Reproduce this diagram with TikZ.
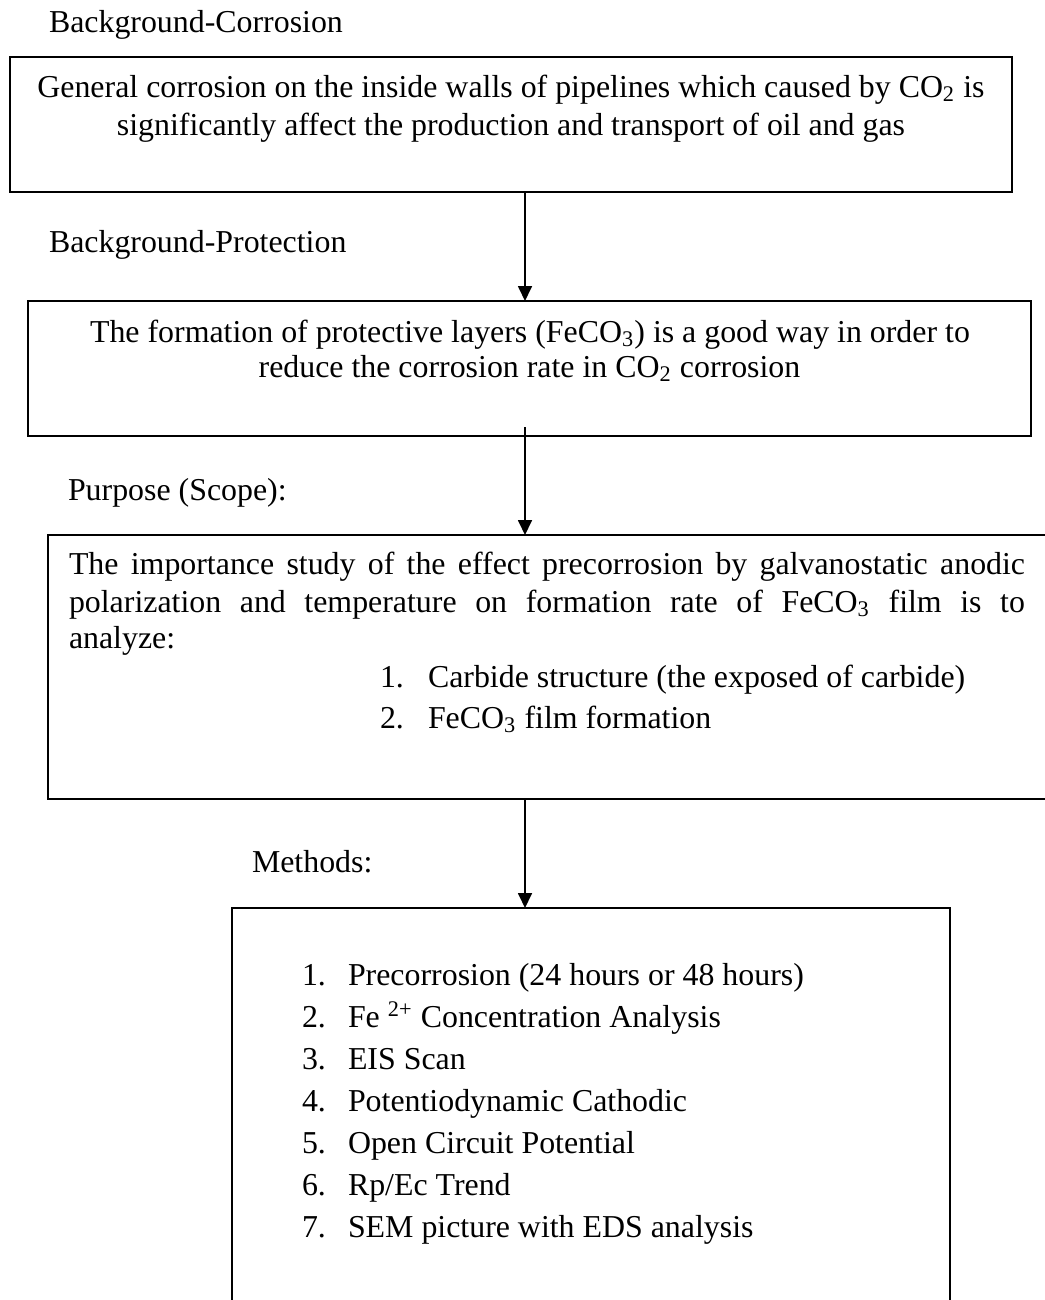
\documentclass[tikz,border=0pt]{standalone}
\usepackage{fontspec}
\setmainfont{Liberation Serif}
\usetikzlibrary{arrows.meta}
\begin{document}
\begin{tikzpicture}[x=0.4pt,y=-0.4pt,
  box/.style={draw, line width=0.8pt, anchor=north west, inner sep=0pt, outer sep=0pt},
  txt/.style={inner sep=0pt, outer sep=0pt, font=\fontsize{12.75}{15}\selectfont},
  lbl/.style={txt, anchor=base west},
  ctr/.style={txt, anchor=base},
  arr/.style={line width=0.7pt, -{Triangle[width=5.6pt,length=6pt]}},
]
\useasboundingbox (0,0) rectangle (1045,1300);
% boxes
\node[box, minimum width=1002*0.4pt, minimum height=135*0.4pt] (b1) at (10,57) {};
\node[box, minimum width=1003*0.4pt, minimum height=135*0.4pt] (b2) at (28,301) {};
\node[box, minimum width=1012*0.4pt, minimum height=264*0.4pt] (b3) at (48,535) {};
\node[box, minimum width=718*0.4pt, minimum height=420*0.4pt] (b4) at (232,908) {};
% connectors
\coordinate (ax) at (525,0);
\coordinate (s2) at ([yshift=3.6pt]b2.south);
\draw[arr] (b1.south -| ax) -- (b2.north -| ax);
\draw[arr] (s2 -| ax) -- (b3.north -| ax);
\draw[arr] (b3.south -| ax) -- (b4.north -| ax);
% texts
\node[lbl] (l1) at (49,32) {Background-Corrosion};
\node[ctr] (t1a) at (511,97) {General corrosion on the inside walls of pipelines which caused by CO\textsubscript{2} is};
\node[ctr] (t1b) at (511,135) {significantly affect the production and transport of oil and gas};
\node[lbl] (l2) at (49,252) {Background-Protection};
\node[ctr] (t2a) at (530,342) {The formation of protective layers (FeCO\textsubscript{3}) is a good way in order to};
\node[ctr] (t2b) at (529.5,377) {reduce the corrosion rate in CO\textsubscript{2} corrosion};
\node[lbl] (l3) at (68,500) {Purpose (Scope):};
\node[lbl] (t3a) at (69,574) {\makebox[382.4pt][s]{The importance study of the effect precorrosion by galvanostatic anodic}};
\node[lbl] (t3b) at (69,612) {\makebox[382.4pt][s]{polarization and temperature on formation rate of FeCO\textsubscript{3} film is to}};
\node[lbl] (t3c) at (69,648) {analyze:};
\node[lbl] (n3a) at (380,687) {1.};
\node[lbl] (i3a) at (428,687) {Carbide structure (the exposed of carbide)};
\node[lbl] (n3b) at (380,728) {2.};
\node[lbl] (i3b) at (428,728) {FeCO\textsubscript{3} film formation};
\node[lbl] (l4) at (252,872) {Methods:};
\node[lbl] (n4a) at (302,985) {1.};
\node[lbl] (i4a) at (348,985) {Precorrosion (24 hours or 48 hours)};
\node[lbl] (n4b) at (302,1027) {2.};
\node[lbl] (i4b) at (348,1027) {Fe \textsuperscript{2+} Concentration Analysis};
\node[lbl] (n4c) at (302,1069) {3.};
\node[lbl] (i4c) at (348,1069) {EIS Scan};
\node[lbl] (n4d) at (302,1111) {4.};
\node[lbl] (i4d) at (348,1111) {Potentiodynamic Cathodic};
\node[lbl] (n4e) at (302,1153) {5.};
\node[lbl] (i4e) at (348,1153) {Open Circuit Potential};
\node[lbl] (n4f) at (302,1195) {6.};
\node[lbl] (i4f) at (348,1195) {Rp/Ec Trend};
\node[lbl] (n4g) at (302,1237) {7.};
\node[lbl] (i4g) at (348,1237) {SEM picture with EDS analysis};
\end{tikzpicture}
\end{document}
